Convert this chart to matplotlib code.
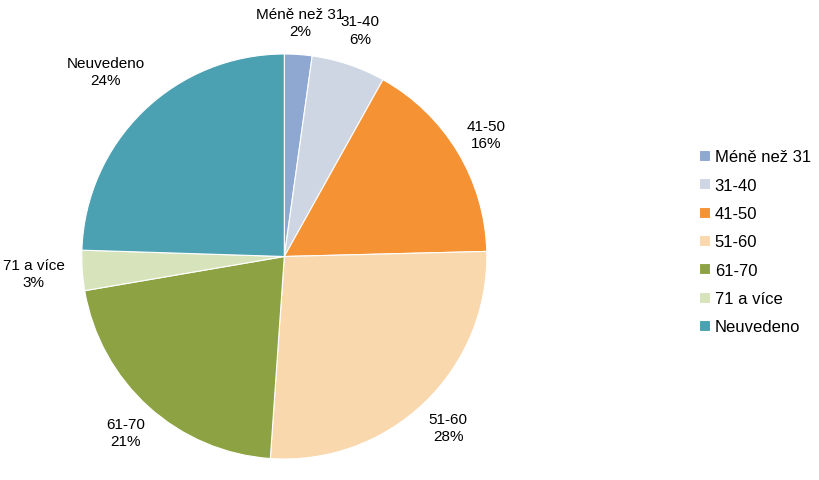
import numpy as np
import matplotlib.pyplot as plt

plt.rcParams['font.family'] = ['Liberation Sans', 'DejaVu Sans']

labels = ['Méně než 31', '31-40', '41-50', '51-60', '61-70', '71 a více', 'Neuvedeno']
# wedge sizes
values = [2.2, 5.9, 16.5, 26.5, 21.2, 3.2, 24.5]
# percentages as printed on the chart
pct_text = ['2%', '6%', '16%', '28%', '21%', '3%', '24%']
colors = ['#8EA8D2', '#CDD6E2', '#F59233', '#F9D8AD', '#8DA242', '#D7E3BA', '#4BA0B2']
# how far from the centre each label sits (in radii)
label_dist = [1.16, 1.18, 1.165, 1.17, 1.17, 1.24, 1.27]

fig = plt.figure(figsize=(8.2, 4.81), dpi=100)
cx, cy, r = 284.3 / 820, 1 - 257.5 / 481, 202.5
ax = fig.add_axes([cx - r / 820, cy - r / 481, 2 * r / 820, 2 * r / 481])

wedges, _ = ax.pie(values, colors=colors, startangle=90, counterclock=False,
                   wedgeprops=dict(edgecolor='white', linewidth=0.8))
ax.set_xlim(-1, 1)
ax.set_ylim(-1, 1)
ax.set_aspect('equal')
ax.axis('off')

for w, lab, p, d in zip(wedges, labels, pct_text, label_dist):
    ang = np.deg2rad((w.theta1 + w.theta2) / 2)
    ax.text(d * np.cos(ang), d * np.sin(ang), f'{lab}\n{p}', ha='center', va='center',
            fontsize=11, linespacing=1.3, clip_on=False)

fig.legend(wedges, labels, loc='center left', bbox_to_anchor=(0.834, 0.495), frameon=False,
           fontsize=12, handlelength=0.65, handleheight=0.65, handletextpad=0.3,
           labelspacing=0.8)

fig.savefig('out.png', dpi=100)
